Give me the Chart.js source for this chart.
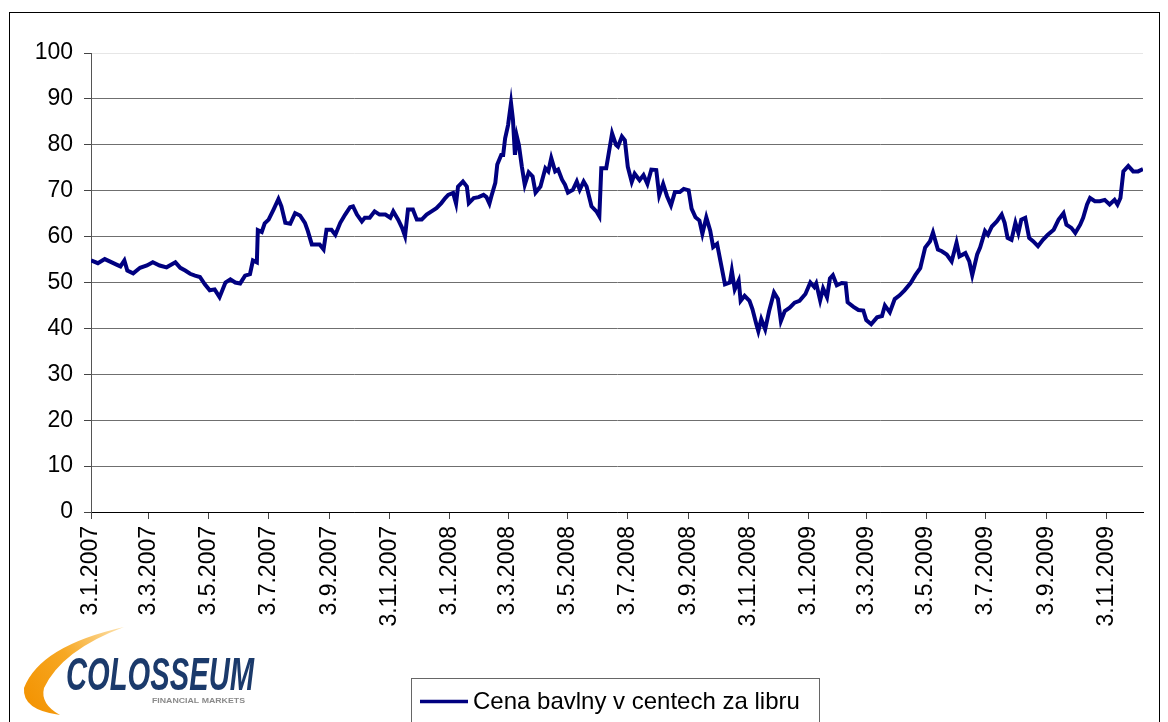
<!DOCTYPE html>
<html>
<head>
<meta charset="utf-8">
<script src="https://cdn.jsdelivr.net/npm/chart.js@4.4.0/dist/chart.umd.min.js"></script>
<style>
    body { margin: 0; background: #fff; }
    #wrap { width: 1168px; height: 722px; position: relative; }
</style>
</head>
<body>
<div id="wrap"><canvas id="cotton"></canvas></div>
<script>
    "use strict";

    // day offsets from 3.1.2007 and the price (cents per pound)
    var days = [0,7,14,19,26,30,34,37,43,50,
        57,63,70,77,86,91,96,101,106,111,
        116,121,126,131,137,142,147,152,157,162,
        165,169,170,174,177,181,186,191,194,198,
        203,208,213,218,221,225,228,233,237,240,
        245,249,254,259,264,267,271,276,279,284,
        289,294,300,305,308,313,317,320,323,328,
        332,337,342,347,352,357,361,364,369,372,
        374,379,383,385,390,395,400,403,406,408,
        412,414,418,420,422,425,428,430,432,434,
        436,439,442,446,450,453,458,463,466,469,
        473,476,480,483,486,491,495,498,502,505,
        510,515,518,520,525,531,535,537,541,544,
        547,551,554,559,563,567,571,576,579,583,
        587,591,595,600,604,609,612,616,620,623,
        627,631,634,638,642,646,651,653,656,660,
        662,666,671,674,678,680,683,687,691,696,
        700,703,707,712,717,722,728,733,737,739,
        743,746,750,753,756,760,765,769,771,777,
        782,787,790,795,801,806,809,814,819,824,
        829,835,840,845,850,855,858,863,867,872,
        877,882,885,891,895,898,903,906,911,914,
        918,923,928,931,934,938,942,945,948,952,
        956,960,965,970,975,981,986,991,994,999,
        1003,1008,1011,1015,1018,1023,1028,1033,1038,1043,
        1046,1049,1052,1057,1062,1067,1072];

    var prices = [54.8,54.2,55.1,54.6,53.9,53.5,54.8,52.6,52.0,53.2,
        53.7,54.4,53.7,53.3,54.4,53.2,52.6,51.9,51.5,51.2,
        49.6,48.3,48.5,46.8,50,50.7,50,49.8,51.5,51.8,
        54.8,54.4,61.4,61,62.9,63.7,65.9,68.2,66.6,63,
        62.8,65.1,64.6,63,61.2,58.3,58.3,58.3,57.2,61.5,
        61.5,60.4,63,64.8,66.4,66.6,64.8,63.3,64.1,64.1,
        65.5,64.8,64.8,64.1,65.5,63.7,61.9,60.1,65.9,65.9,
        63.7,63.7,64.8,65.5,66.2,67.3,68.4,69.1,69.5,67.2,
        70.9,72,70.9,67.3,68.4,68.6,69.1,68.6,67.2,68.8,
        71.7,75.7,77.8,77.8,81.4,84.3,89.1,85.4,77.8,81.8,
        80,75.3,71.3,74,73.1,69.6,70.9,74.9,74.2,77.1,
        74.2,74.6,72.4,71.3,69.6,70.2,72,70.2,72,70.9,
        66.6,65.5,64.4,74.9,74.9,82.5,80,79.6,81.8,81,
        75.2,71.9,73.7,72.3,73.4,71.5,74.6,74.5,69,71.5,
        68.8,66.8,69.7,69.7,70.4,70.1,66.1,64.2,63.5,60.6,
        64.2,61.3,57.7,58.4,54,49.6,50,52.6,48.5,50.4,
        46,47.1,46,44.2,40.9,39.4,42,39.8,43.8,47.8,
        46.4,41.6,43.8,44.5,45.6,46,47.5,50,49,49.8,
        46.1,48.7,46.8,50.9,51.6,49.4,49.9,49.8,45.7,44.7,
        44,43.9,41.8,40.9,42.4,42.7,45,43.5,46.4,47.2,
        48.3,49.8,51.6,53.1,57.6,59,60.9,57.2,56.8,56.1,
        54.6,58.7,55.7,56.4,54.6,51.6,56.1,57.6,61.2,60.4,
        62.2,63.3,64.8,63,59.7,59.3,63,60.8,63.7,64.1,
        59.7,59,57.9,59.3,60.4,61.5,63.7,65.1,62.6,61.9,
        60.8,62.6,64.1,67,68.4,67.7,67.7,68,67,68,
        67,68.4,74.2,75.4,74.2,74.2,74.7];

    var tickLabels = ["3.1.2007", "3.3.2007", "3.5.2007", "3.7.2007", "3.9.2007", "3.11.2007",
        "3.1.2008", "3.3.2008", "3.5.2008", "3.7.2008", "3.9.2008", "3.11.2008",
        "3.1.2009", "3.3.2009", "3.5.2009", "3.7.2009", "3.9.2009", "3.11.2009"];
    var seriesLabel = "Cena bavlny v centech za libru";
    var lastDay = 1072;

    // turn "d.m.yyyy" into days since 3.1.2007
    function dayOf(s) {
        var p = s.split(".");
        var t0 = Date.UTC(2007, 0, 3);
        return Math.round((Date.UTC(+p[2], +p[1] - 1, +p[0]) - t0) / 86400000);
    }
    var tickDays = tickLabels.map(dayOf);

    var points = days.map(function (d, i) {
        return { x: d, y: prices[i] };
    });

    var FONT = "'Liberation Sans', Arial, sans-serif";
    Chart.defaults.font.family = FONT;
    Chart.defaults.color = "#000";

    // frame, legend box and the Colosseum logo
    var extras = {
        id: "extras",
        afterDraw: function (chart) {
            var ctx = chart.ctx;
            ctx.save();

            ctx.strokeStyle = "#000";
            ctx.lineWidth = 1;
            ctx.strokeRect(9.5, 12.5, 1150, 740);

            // legend
            ctx.strokeStyle = "#666";
            ctx.strokeRect(411.5, 678.5, 408, 60);
            ctx.strokeStyle = "#000080";
            ctx.lineWidth = 3.5;
            ctx.beginPath();
            ctx.moveTo(420, 701.5);
            ctx.lineTo(468, 701.5);
            ctx.stroke();
            ctx.fillStyle = "#000";
            ctx.font = "24px " + FONT;
            ctx.textBaseline = "middle";
            ctx.fillText(seriesLabel, 473, 702);

            // logo swoosh
            var g = ctx.createLinearGradient(20, 700, 125, 628);
            g.addColorStop(0, "#f39200");
            g.addColorStop(0.5, "#f7a823");
            g.addColorStop(1, "#fde3b0");
            ctx.fillStyle = g;
            ctx.beginPath();
            ctx.moveTo(124, 627);
            ctx.quadraticCurveTo(40, 646, 24, 688);
            ctx.quadraticCurveTo(22, 710, 60, 715);
            ctx.quadraticCurveTo(40, 704, 44, 688);
            ctx.quadraticCurveTo(62, 650, 124, 627);
            ctx.fill();

            // logo text
            ctx.fillStyle = "#1b3a6b";
            ctx.font = "italic bold 46px 'Liberation Sans Narrow', " + FONT;
            ctx.textBaseline = "alphabetic";
            var w = ctx.measureText("COLOSSEUM").width;
            ctx.save();
            ctx.translate(66, 690);
            ctx.scale(188 / w, 1);
            ctx.fillText("COLOSSEUM", 0, 0);
            ctx.restore();

            ctx.fillStyle = "#8a8a8a";
            ctx.font = "bold 7px " + FONT;
            var w2 = ctx.measureText("FINANCIAL MARKETS").width;
            ctx.save();
            ctx.translate(152, 703);
            ctx.scale(93 / w2, 1);
            ctx.fillText("FINANCIAL MARKETS", 0, 0);
            ctx.restore();

            ctx.restore();
        }
    };

    var ctx = document.getElementById("cotton").getContext("2d");
    var cottonChart = new Chart(ctx, {
        type: "line",
        data: {
            datasets: [{
                label: seriesLabel,
                data: points,
                borderColor: "#000080",
                borderWidth: 4,
                pointRadius: 0,
                tension: 0,
                fill: false
            }]
        },
        options: {
            responsive: true,
            maintainAspectRatio: false,
            animation: false,
            layout: { padding: { left: 0, right: 25, top: 53, bottom: 0 } },
            plugins: {
                legend: { display: false },
                tooltip: { enabled: false }
            },
            scales: {
                x: {
                    type: "linear",
                    min: 0,
                    max: lastDay,
                    afterBuildTicks: function (scale) {
                        scale.ticks = tickDays.map(function (d) { return { value: d }; });
                    },
                    afterFit: function (scale) { scale.height = 210; },
                    ticks: {
                        autoSkip: false,
                        minRotation: 90,
                        maxRotation: 90,
                        padding: 7,
                        font: { size: 23 },
                        callback: function (v, i) { return tickLabels[i]; }
                    },
                    grid: {
                        drawOnChartArea: false,
                        drawTicks: true,
                        tickLength: 7,
                        tickColor: "#444"
                    },
                    border: { color: "#000", width: 1 }
                },
                y: {
                    min: 0,
                    max: 100,
                    afterFit: function (scale) { scale.width = 91; },
                    ticks: {
                        stepSize: 10,
                        padding: 11,
                        font: { size: 23 }
                    },
                    grid: {
                        color: function (c) {
                            return c.tick && c.tick.value === 100 ? "#e6e6e6" : "#6f6f6f";
                        },
                        tickColor: "#444",
                        tickLength: 7
                    },
                    border: { color: "#555", width: 1 }
                }
            }
        },
        plugins: [extras]
    });
</script>
</body>
</html>
